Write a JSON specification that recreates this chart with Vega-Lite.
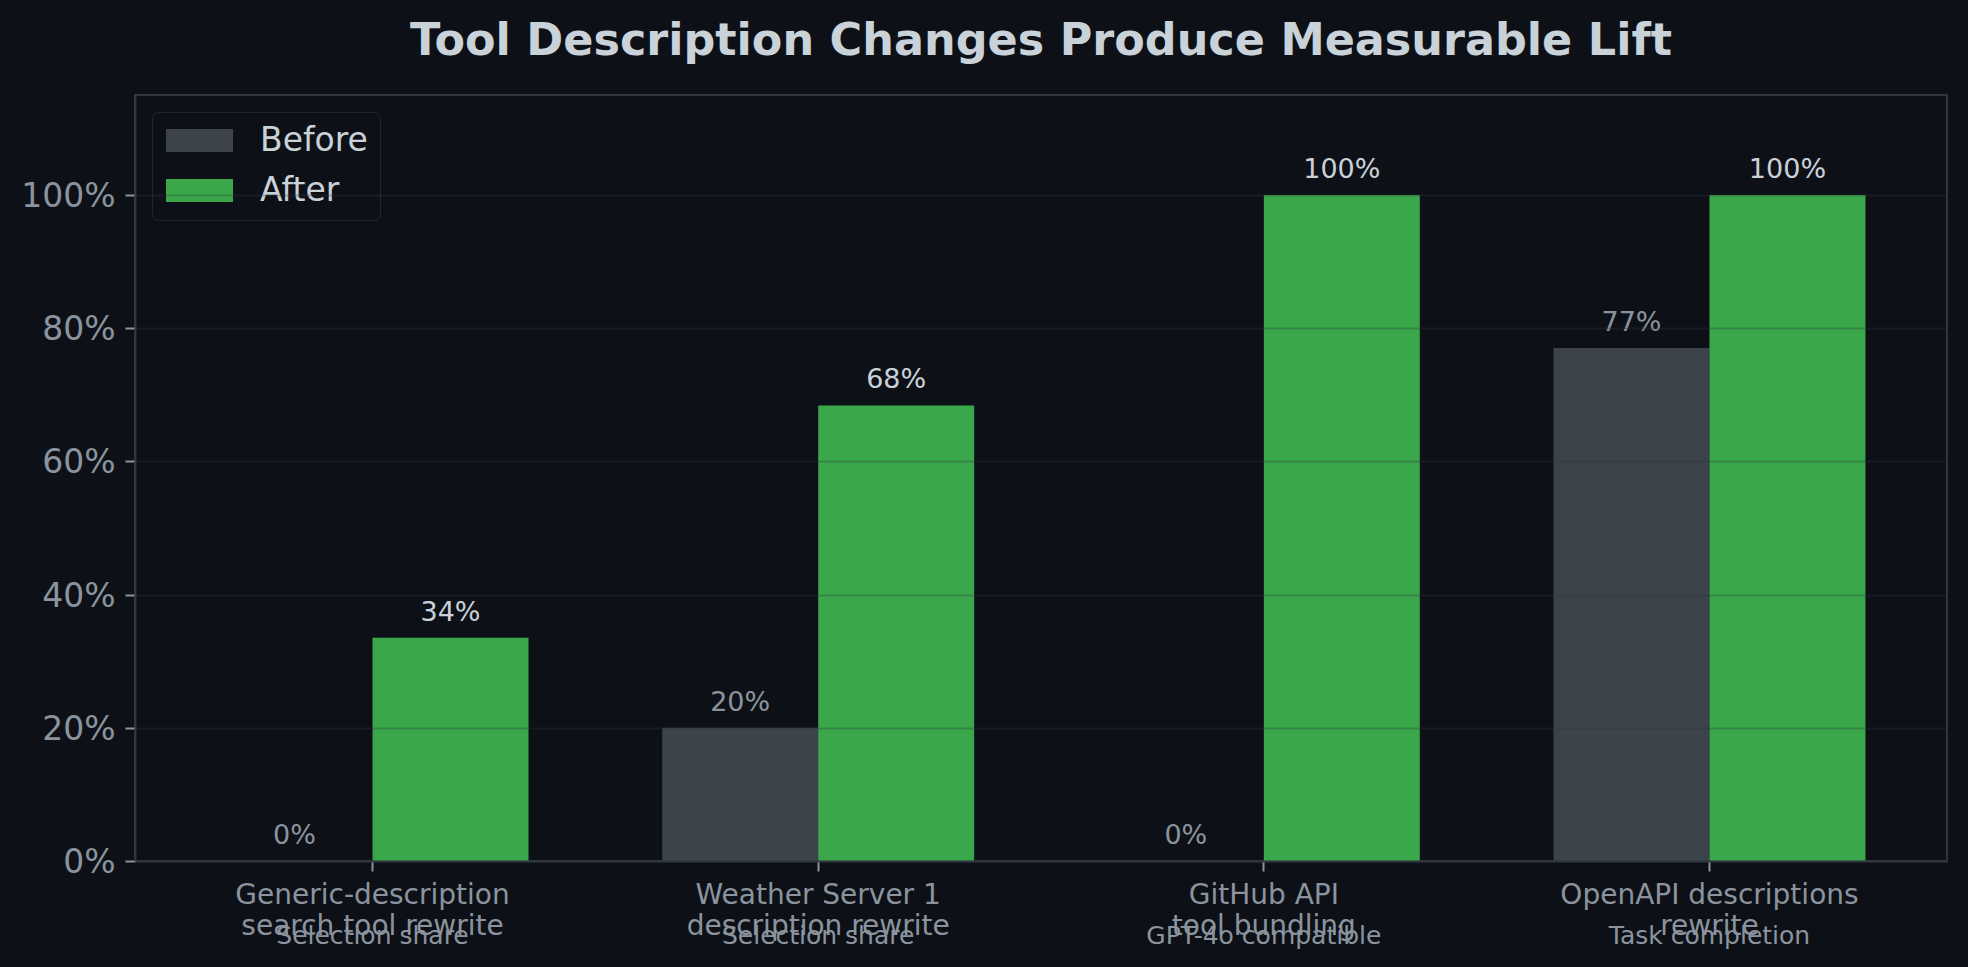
{
  "$schema": "https://vega.github.io/schema/vega-lite/v6.json",
  "autosize": "none",
  "width": 1812,
  "height": 766,
  "padding": {"left": 135, "top": 95, "right": 21, "bottom": 106},
  "background": "#0d1117",
  "title": {
    "text": "Tool Description Changes Produce Measurable Lift",
    "fontSize": 44.5,
    "fontWeight": "bold",
    "color": "#c9d1d9",
    "anchor": "middle",
    "frame": "group",
    "baseline": "alphabetic",
    "offset": -4
  },
  "data": {
    "values": [
      {"tool": "Generic-description\nsearch tool rewrite\nSelection share", "phase": "Before", "value": 0},
      {"tool": "Generic-description\nsearch tool rewrite\nSelection share", "phase": "After", "value": 0.335},
      {"tool": "Weather Server 1\ndescription rewrite\nSelection share", "phase": "Before", "value": 0.2},
      {"tool": "Weather Server 1\ndescription rewrite\nSelection share", "phase": "After", "value": 0.684},
      {"tool": "GitHub API\ntool bundling\nGPT-4o compatible", "phase": "Before", "value": 0},
      {"tool": "GitHub API\ntool bundling\nGPT-4o compatible", "phase": "After", "value": 1.0},
      {"tool": "OpenAPI descriptions\nrewrite\nTask completion", "phase": "Before", "value": 0.77},
      {"tool": "OpenAPI descriptions\nrewrite\nTask completion", "phase": "After", "value": 1.0}
    ]
  },
  "encoding": {
    "x": {
      "field": "tool",
      "type": "nominal",
      "sort": null,
      "scale": {"paddingInner": 0.3, "paddingOuter": 0.183}
    },
    "xOffset": {
      "field": "phase",
      "type": "nominal",
      "scale": {"domain": ["Before", "After"], "paddingInner": 0, "paddingOuter": 0}
    },
    "y": {
      "field": "value",
      "type": "quantitative",
      "scale": {"domain": [0, 1.15], "nice": false, "zero": true}
    }
  },
  "layer": [
    {
      "mark": {"type": "bar", "cornerRadius": 0},
      "encoding": {
        "x": {
          "field": "tool",
          "type": "nominal",
          "sort": null,
          "axis": {
            "title": null,
            "labelAngle": 0,
            "labelExpr": "slice(split(datum.label, '\\n'), 0, 2)",
            "labelFontSize": 28,
            "labelColor": "#8b949e",
            "labelLineHeight": 31.7,
            "labelBaseline": "alphabetic",
            "labelPadding": 32,
            "labelLimit": 0,
            "labelOverlap": false,
            "ticks": true,
            "tickSize": 10,
            "tickWidth": 2,
            "tickColor": "#8b949e",
            "domain": true,
            "domainColor": "#30363d",
            "domainWidth": 2,
            "grid": false,
            "zindex": 1
          }
        },
        "y": {
          "field": "value",
          "type": "quantitative",
          "axis": {
            "title": null,
            "values": [0, 0.2, 0.4, 0.6, 0.8, 1.0],
            "format": ".0%",
            "labelFontSize": 33,
            "labelColor": "#8b949e",
            "labelPadding": 10,
            "labelOffset": 1.5,
            "tickSize": 10,
            "tickWidth": 2,
            "tickColor": "#8b949e",
            "domainColor": "#30363d",
            "domainWidth": 2,
            "grid": true,
            "gridColor": "#30363d",
            "gridOpacity": 0.3,
            "gridWidth": 2,
            "zindex": 1
          }
        },
        "color": {
          "field": "phase",
          "type": "nominal",
          "scale": {"domain": ["Before", "After"], "range": ["#3c434b", "#3aa84a"]},
          "legend": {
            "title": null,
            "orient": "top-left",
            "offset": 17,
            "padding": 12,
            "cornerRadius": 6,
            "strokeColor": "#21262d",
            "fillColor": "#0d1117",
            "labelFontSize": 33,
            "labelColor": "#c9d1d9",
            "symbolType": "M-2.913,-1H2.913V1H-2.913Z",
            "symbolSize": 529,
            "symbolStrokeWidth": 0,
            "symbolOpacity": 1,
            "symbolOffset": 19,
            "rowPadding": 16,
            "labelOffset": 44
          }
        }
      }
    },
    {
      "mark": {"type": "text", "baseline": "alphabetic", "align": "center", "dy": -17, "fontSize": 27},
      "encoding": {
        "x": {
          "field": "tool",
          "type": "nominal",
          "sort": null,
          "axis": {
            "orient": "bottom",
            "title": null,
            "labelAngle": 0,
            "labelExpr": "split(datum.label, '\\n')[2]",
            "labelFontSize": 25,
            "labelColor": "#8b949e",
            "labelBaseline": "alphabetic",
            "labelPadding": 82,
            "labelLimit": 0,
            "labelOverlap": false,
            "ticks": false,
            "tickSize": 0,
            "domain": false,
            "grid": false
          }
        },
        "text": {"field": "value", "type": "quantitative", "format": ".0%"},
        "color": {
          "condition": {"test": "datum.phase === 'After'", "value": "#c9d1d9"},
          "value": "#8b949e"
        }
      }
    }
  ],
  "resolve": {"axis": {"x": "independent"}},
  "config": {
    "font": "DejaVu Sans",
    "view": {"stroke": "#30363d", "strokeWidth": 2, "fill": "#0d1117"},
    "axis": {"labelFont": "DejaVu Sans"},
    "legend": {"labelFont": "DejaVu Sans"}
  }
}
